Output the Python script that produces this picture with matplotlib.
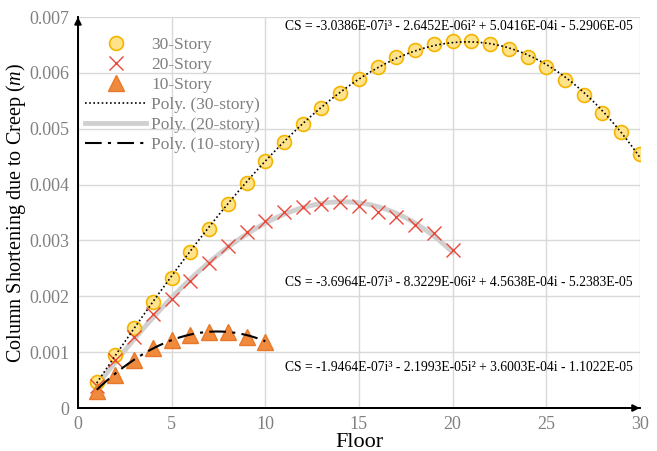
import numpy as np
import matplotlib
matplotlib.use("Agg")
import matplotlib.pyplot as plt

# floors
floors30 = np.arange(1, 31)
floors20 = np.arange(1, 21)
floors10 = np.arange(1, 11)

# column shortening due to creep (m)
cs30 = [0.000465, 0.00095, 0.00143, 0.00190, 0.00233, 0.00280, 0.00321, 0.00365,
        0.00403, 0.00442, 0.00476, 0.00508, 0.00537, 0.00564, 0.00589, 0.00610,
        0.00628, 0.00641, 0.00652, 0.00657, 0.00657, 0.00652, 0.00643, 0.00628,
        0.00610, 0.00587, 0.00560, 0.00528, 0.00494, 0.00455]
cs20 = [0.00040, 0.00086, 0.00127, 0.00168, 0.00196, 0.00227, 0.00260, 0.00290,
        0.00315, 0.00334, 0.00351, 0.00360, 0.00365, 0.00369, 0.00362, 0.00351,
        0.00342, 0.00328, 0.00313, 0.00283]
cs10 = [0.00030, 0.00060, 0.00086, 0.00107, 0.00122, 0.00131, 0.00136, 0.00136,
        0.00127, 0.00118]

# trendline coefficients (cubic, highest power first) as printed on the chart
coef30 = [-3.0386e-07, -2.6452e-06, 5.0416e-04, -5.2906e-05]
coef20 = [-3.6964e-07, -8.3229e-06, 4.5638e-04, -5.2383e-05]
coef10 = [-1.9464e-07, -2.1993e-05, 3.6003e-04, -1.1022e-05]
eq30 = "CS = -3.0386E-07i³ - 2.6452E-06i² + 5.0416E-04i - 5.2906E-05"
eq20 = "CS = -3.6964E-07i³ - 8.3229E-06i² + 4.5638E-04i - 5.2383E-05"
eq10 = "CS = -1.9464E-07i³ - 2.1993E-05i² + 3.6003E-04i - 1.1022E-05"

plt.rcParams["font.family"] = ["Liberation Serif", "DejaVu Serif"]
plt.rcParams["mathtext.fontset"] = "custom"
plt.rcParams["mathtext.rm"] = "Liberation Serif"
plt.rcParams["mathtext.it"] = "Liberation Serif:italic"

fig = plt.figure(figsize=(6.57, 4.51), dpi=100)
ax = fig.add_axes([0.1187, 0.0953, 0.8553, 0.867])

ax.plot(floors30, cs30, "o", ms=10, mfc="#ffe38a", mec="#f4b400", mew=1.2,
        label="30-Story", zorder=3)
ax.plot(floors20, cs20, "x", ms=10, mec="#e8493a", mew=1.0,
        label="20-Story", zorder=3)
ax.plot(floors10, cs10, "^", ms=11.5, mfc="#f08a3c", mec="#e8782a", mew=1.0,
        label="10-Story", zorder=3)

xs30 = np.linspace(1, 30, 200)
xs20 = np.linspace(1, 20, 200)
xs10 = np.linspace(1, 10, 200)
ax.plot(xs30, np.polyval(coef30, xs30), color="black", lw=1.2, ls=(0, (1, 1.5)),
        label="Poly. (30-story)", zorder=4)
ax.plot(xs20, np.polyval(coef20, xs20), color="#d0d0d0", lw=3.5,
        label="Poly. (20-story)", zorder=2.5)
ax.plot(xs10, np.polyval(coef10, xs10), color="black", lw=1.5,
        ls=(0, (8, 3, 1.5, 3)), label="Poly. (10-story)", zorder=4)

ax.set_xlim(0, 30)
ax.set_ylim(0, 0.007)
ax.set_xticks(np.arange(0, 31, 5))
ax.set_yticks(np.arange(0, 0.0071, 0.001))
ax.set_yticklabels(["0", "0.001", "0.002", "0.003", "0.004", "0.005", "0.006", "0.007"])
ax.tick_params(length=0, labelsize=13, labelcolor="#808080", pad=6)
ax.grid(color="#d9d9d9", lw=1.0)
ax.set_axisbelow(True)
for s in ["top", "right"]:
    ax.spines[s].set_visible(False)
for s in ["left", "bottom"]:
    ax.spines[s].set_linewidth(1.4)

# axis arrows
ax.annotate("", xy=(1, 0), xytext=(0, 0), xycoords="axes fraction",
            arrowprops=dict(arrowstyle="-|>", color="black", lw=1.4,
                            mutation_scale=10, shrinkA=0, shrinkB=0))
ax.annotate("", xy=(0, 1), xytext=(0, 0), xycoords="axes fraction",
            arrowprops=dict(arrowstyle="-|>", color="black", lw=1.4,
                            mutation_scale=10, shrinkA=0, shrinkB=0))

ax.set_xlabel("Floor", fontsize=16, labelpad=0)
ax.set_ylabel("Column Shortening due to Creep $\\mathit{(m)}$", fontsize=14.5, labelpad=1)

eq_font = dict(fontsize=9.8, ha="right", va="center")
ax.text(29.6, 0.00683, eq30, **eq_font)
ax.text(29.6, 0.00224, eq20, **eq_font)
ax.text(29.6, 0.00073, eq10, **eq_font)

leg = ax.legend(loc="upper left", bbox_to_anchor=(-0.012, 0.985), frameon=False,
                fontsize=12.5, labelcolor="#808080", handlelength=3.5,
                handletextpad=0.3, labelspacing=0.22, borderaxespad=0.4)

fig.savefig("out.png", dpi=100)
